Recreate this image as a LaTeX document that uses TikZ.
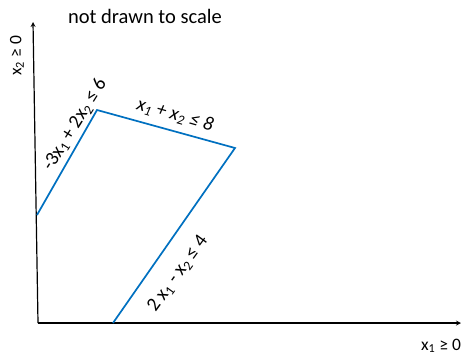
\documentclass[tikz,border=0pt]{standalone}
\usepackage{fontspec}
\setmainfont{Carlito}
\begin{document}
\begin{tikzpicture}[x=1pt,y=-1pt]

\definecolor{officeblau}{RGB}{0,112,192};
\tikzset{lbl/.style={font=\fontsize{19.5}{23}\selectfont,inner sep=0pt},
  achslbl/.style={font=\fontsize{17.5}{21}\selectfont,inner sep=0pt}}

\useasboundingbox (0,0) rectangle (461,356);

% Achsen
\coordinate (O) at (38,323);
\draw[-stealth,line width=1.2pt] (O) -- (461,323);
\draw[-stealth,line width=1.2pt] (O) -- (33,22);

% zulaessiger Bereich
\coordinate (A) at (37,215);
\coordinate (B) at (97,110);
\coordinate (C) at (235,148);
\coordinate (D) at (113,323);
\draw[officeblau,line width=1.7pt] (A) -- (B) -- (C) -- (D);

\node[lbl,font=\fontsize{20.5}{24}\selectfont] (titel) at (145,16) {not drawn to scale};
\node[achslbl,rotate=90] (ytxt) at (17,56) {x\textsubscript{2} ≥ 0};
\node[achslbl] (xtxt) at (441,346) {x\textsubscript{1} ≥ 0};

\node[lbl,rotate=58] (ga) at (75,125) {-3x\textsubscript{1} + 2x\textsubscript{2} ≤ 6};
\node[lbl,rotate=-16] (gb) at (175,115) {\itshape x\textsubscript{1} + x\textsubscript{2} ≤ 8};
\node[lbl,rotate=54] (gc) at (178,274) {2 x\textsubscript{1} - x\textsubscript{2} ≤ 4};

\end{tikzpicture}
\end{document}
